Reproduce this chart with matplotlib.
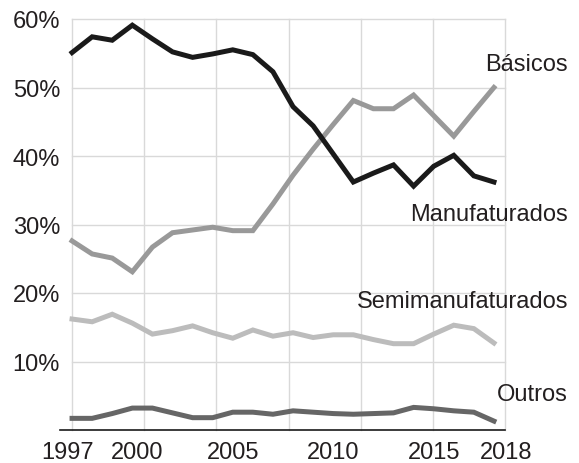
import numpy as np
import matplotlib
matplotlib.use("Agg")
import matplotlib.pyplot as plt
import matplotlib.transforms as mtransforms

plt.rcParams['font.family'] = ['Liberation Sans', 'DejaVu Sans']

years = list(range(1997, 2019))

# participação (%) por fator agregado
manufaturados = [55.1, 57.4, 56.9, 59.1, 57.1, 55.2, 54.4, 54.9, 55.5, 54.8, 52.3,
                 47.2, 44.4, 40.3, 36.2, 37.5, 38.7, 35.6, 38.5, 40.1, 37.1, 36.2]
basicos = [27.6, 25.7, 25.1, 23.1, 26.7, 28.8, 29.2, 29.6, 29.1, 29.1, 33.0,
           37.2, 41.0, 44.6, 48.1, 46.9, 46.9, 48.9, 45.9, 42.9, 46.5, 50.0]
semimanufaturados = [16.2, 15.8, 16.9, 15.6, 14.0, 14.5, 15.2, 14.2, 13.4, 14.6, 13.7,
                     14.2, 13.5, 13.9, 13.9, 13.2, 12.6, 12.6, 14.0, 15.3, 14.8, 12.7]
outros = [1.7, 1.7, 2.4, 3.2, 3.2, 2.5, 1.8, 1.8, 2.6, 2.6, 2.3,
          2.8, 2.6, 2.4, 2.3, 2.4, 2.5, 3.3, 3.1, 2.8, 2.6, 1.3]

yticks = [10, 20, 30, 40, 50, 60]
xticks = [1997, 2000, 2005, 2010, 2015, 2018]

txt = "#231f20"
fig = plt.figure(figsize=(5.79, 4.64), dpi=100)
ax = fig.add_axes([60 / 579, 33 / 464, 445 / 579, 411 / 464])

xmin, xmax = 1996.4, 2018.55
ax.set_xlim(xmin, xmax)
ax.set_ylim(0, 60)

# grade
for y in yticks:
    ax.plot([1997, xmax], [y, y], color="#d9d9d9", lw=1.0, zorder=0, clip_on=False)
for x in np.linspace(1997, xmax, 7):
    ax.plot([x, x], [0, 60], color="#d9d9d9", lw=1.0, zorder=0, clip_on=False)

lw = 3.6
ax.plot(years, outros, color="#666666", lw=lw, solid_joinstyle="miter", zorder=3)
ax.plot(years, semimanufaturados, color="#bcbcbc", lw=lw, solid_joinstyle="miter", zorder=3)
ax.plot(years, basicos, color="#999999", lw=lw, solid_joinstyle="miter", zorder=3)
ax.plot(years, manufaturados, color="#1a1a1a", lw=lw, solid_joinstyle="miter", zorder=4)

for s in ["top", "right", "left"]:
    ax.spines[s].set_visible(False)
ax.spines["bottom"].set_color("#1a1a1a")
ax.spines["bottom"].set_linewidth(1.2)

ax.set_yticks(yticks)
ax.set_yticklabels(["{}%".format(v) for v in yticks])
ax.set_xticks(xticks)
ax.set_xticklabels([str(v) for v in xticks])
ax.tick_params(axis="both", length=0, labelsize=17, labelcolor=txt)
ax.tick_params(axis="y", pad=0)
ax.tick_params(axis="x", pad=8)

shifts = {1997: -4, 2000: 5, 2018: 12}
for lab, v in zip(ax.get_xticklabels(), xticks):
    if v in shifts:
        off = mtransforms.ScaledTranslation(shifts[v] / 100, 0, fig.dpi_scale_trans)
        lab.set_transform(lab.get_transform() + off)

labels = [("Básicos", 0.89), ("Manufaturados", 0.525),
          ("Semimanufaturados", 0.315), ("Outros", 0.088)]
for name, yf in labels:
    ax.text(1.1416, yf, name, transform=ax.transAxes, ha="right", va="center",
            fontsize=17, color=txt, zorder=5, clip_on=False)

fig.savefig("out.png", dpi=100)
